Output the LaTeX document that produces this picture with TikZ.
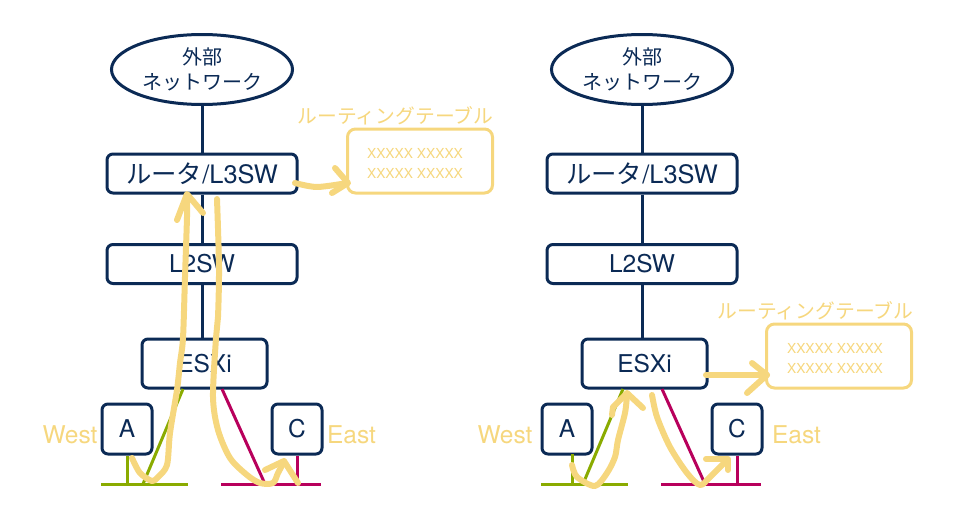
\documentclass[tikz,border=0pt]{standalone}
\usepackage{fontspec}
\setmainfont{TeX Gyre Heros}
\newfontfamily\cjk{Noto Sans CJK JP}
\usetikzlibrary{shapes.geometric}
\definecolor{navy}{HTML}{0B2A55}
\definecolor{pen}{HTML}{F6D77E}
\definecolor{westc}{HTML}{8AAB00}
\definecolor{eastc}{HTML}{B8005C}
\newcommand{\fs}[1]{\fontsize{#1}{#1}\selectfont}
\tikzset{
	box/.style={draw=navy,line width=3pt,rounded corners=6pt,fill=white,text=navy,inner sep=0pt,font=\fs{24.5}},
	cloud/.style={draw=navy,line width=3pt,ellipse,fill=white,text=navy,inner sep=0pt,minimum width=181pt,minimum height=70pt,align=center,font=\fs{20}},
	tablebox/.style={draw=pen,line width=3pt,rounded corners=8pt,minimum width=145pt,minimum height=64pt,inner sep=0pt},
	wire/.style={navy,line width=3pt},
	westline/.style={westc,line width=3pt},
	eastline/.style={eastc,line width=3pt},
	stroke/.style={pen,line width=6pt,line cap=round,line join=round},
	note/.style={text=pen,inner sep=0pt},
}
\begin{document}
\begin{tikzpicture}[x=1pt,y=-1pt]
	\useasboundingbox (0,0) rectangle (962,522);
	% left side
	\node[cloud] (ext) at (202,69.5) {\raisebox{-2pt}{\cjk 外部}\\[7pt]{\cjk ネットワーク}};
	\node[box,minimum width=190pt,minimum height=39pt] (router) at (202,173.5) {\fs{25.4}\raisebox{-1pt}{{\cjk ルータ}/L3SW}};
	\node[box,minimum width=190pt,minimum height=39pt] (ltwo) at (202,264) {\raisebox{-1pt}{L2SW}};
	\node[box,minimum width=125pt,minimum height=49pt] (esxi) at (204.5,363.5) {\raisebox{-1pt}{ESXi}};
	\node[box,minimum width=50pt,minimum height=50pt] (vma) at (127,429) {A};
	\node[box,minimum width=50pt,minimum height=50pt] (vmc) at (297,429) {C};
	\node[note,font=\fs{24.5}] (west) at (70,435) {West};
	\node[note,font=\fs{24.5}] (east) at (351.5,435) {East};
	\node[tablebox] (table) at (420,161) {};
	\node[note,font=\fs{19.8}] (tabletitle) at (395.5,116) {\cjk ルーティングテーブル};
	\node[note,font=\fs{13.8},align=center] (tabletext) at (415,163) {XXXXX XXXXX\\[6.2pt]XXXXX XXXXX};
	\coordinate (esxitop) at (202,338);
	\coordinate (wl) at (101,484); \coordinate (wr) at (188,484);
	\coordinate (el) at (221,484); \coordinate (er) at (321,484);
	\coordinate (wt) at (183,389); \coordinate (wb) at (143,484);
	\coordinate (et) at (222,389); \coordinate (eb) at (265,484);
	\draw[wire] (ext) -- (router);
	\draw[wire] (router) -- (ltwo);
	\draw[wire] (ltwo) -- (esxitop);
	\draw[westline] (wl) -- (wr);
	\draw[westline] (vma.south) -- (vma.south |- wl);
	\draw[westline] (wt) -- (wb);
	\draw[eastline] (el) -- (er);
	\draw[eastline] (vmc.south) -- (vmc.south |- el);
	\draw[eastline] (et) -- (eb);
	% pen strokes left
	\draw[stroke] plot[smooth,tension=0.5] coordinates {(132,458) (140,473) (152,481) (158,477) (167,465) (170,433) (177,390) (180,363) (183,338) (185,277) (187,217) (187,195)};
	\draw[stroke] (177,220) -- (187,194) -- (203,213);
	\draw[stroke] plot[smooth,tension=0.5] coordinates {(217,199) (219,267) (218,317) (216,338) (213,397) (218,430) (230,458) (247,475) (260,483) (273,483) (278,473) (284,462)};
	\draw[stroke] (265,470) -- (284,461) -- (298,483);
	\draw[stroke] plot[smooth,tension=0.5] coordinates {(295,183) (317,187) (347,183)};
	\draw[stroke] (335,168) -- (348,183) -- (332,193);

	% right side
	\node[cloud] (extr) at (642,69.5) {\raisebox{-2pt}{\cjk 外部}\\[7pt]{\cjk ネットワーク}};
	\node[box,minimum width=190pt,minimum height=39pt] (routerr) at (642,173.5) {\fs{25.4}\raisebox{-1pt}{{\cjk ルータ}/L3SW}};
	\node[box,minimum width=190pt,minimum height=39pt] (ltwor) at (642,264) {\raisebox{-1pt}{L2SW}};
	\node[box,minimum width=125pt,minimum height=49pt] (esxir) at (644.5,363.5) {\raisebox{-1pt}{ESXi}};
	\node[box,minimum width=50pt,minimum height=50pt] (vmar) at (567,429) {A};
	\node[box,minimum width=50pt,minimum height=50pt] (vmcr) at (737,429) {C};
	\node[note,font=\fs{24.5}] (westr) at (505,435) {West};
	\node[note,font=\fs{24.5}] (eastr) at (796.5,435) {East};
	\node[tablebox] (tabler) at (839,356) {};
	\node[note,font=\fs{19.8}] (tabletitler) at (815.5,311) {\cjk ルーティングテーブル};
	\node[note,font=\fs{13.8},align=center] (tabletextr) at (835,358) {XXXXX XXXXX\\[6.2pt]XXXXX XXXXX};
	\coordinate (esxitopr) at (642,338);
	\coordinate (stemt) at (572,454);
	\coordinate (wlr) at (541,484); \coordinate (wrr) at (628,484);
	\coordinate (elr) at (661,484); \coordinate (err) at (761,484);
	\coordinate (wtr) at (623,389); \coordinate (wbr) at (583,484);
	\coordinate (etr) at (662,389); \coordinate (ebr) at (705,484);
	\draw[wire] (extr) -- (routerr);
	\draw[wire] (routerr) -- (ltwor);
	\draw[wire] (ltwor) -- (esxitopr);
	\draw[westline] (wlr) -- (wrr);
	\draw[westline] (stemt) -- (stemt |- wlr);
	\draw[westline] (wtr) -- (wbr);
	\draw[eastline] (elr) -- (err);
	\draw[eastline] (vmcr.south) -- (vmcr.south |- elr);
	\draw[eastline] (etr) -- (ebr);
	% pen strokes right
	\draw[stroke] plot[smooth,tension=0.5] coordinates {(572,465) (577,477) (595,486) (607,473) (615,457) (618,440) (625,413) (627,395)};
	\draw[stroke] (612,415) -- (613,407) -- (627,393) -- (643,408);
	\draw[stroke] plot[smooth,tension=0.5] coordinates {(652,395) (657,417) (670,447) (687,473) (700,485) (710,477) (727,460)};
	\draw[stroke] (706,459) -- (728,459) -- (728,470);
	\draw[stroke] (706,375) -- (767,375);
	\draw[stroke] (752,363) -- (767,375) -- (747,393);
\end{tikzpicture}
\end{document}
